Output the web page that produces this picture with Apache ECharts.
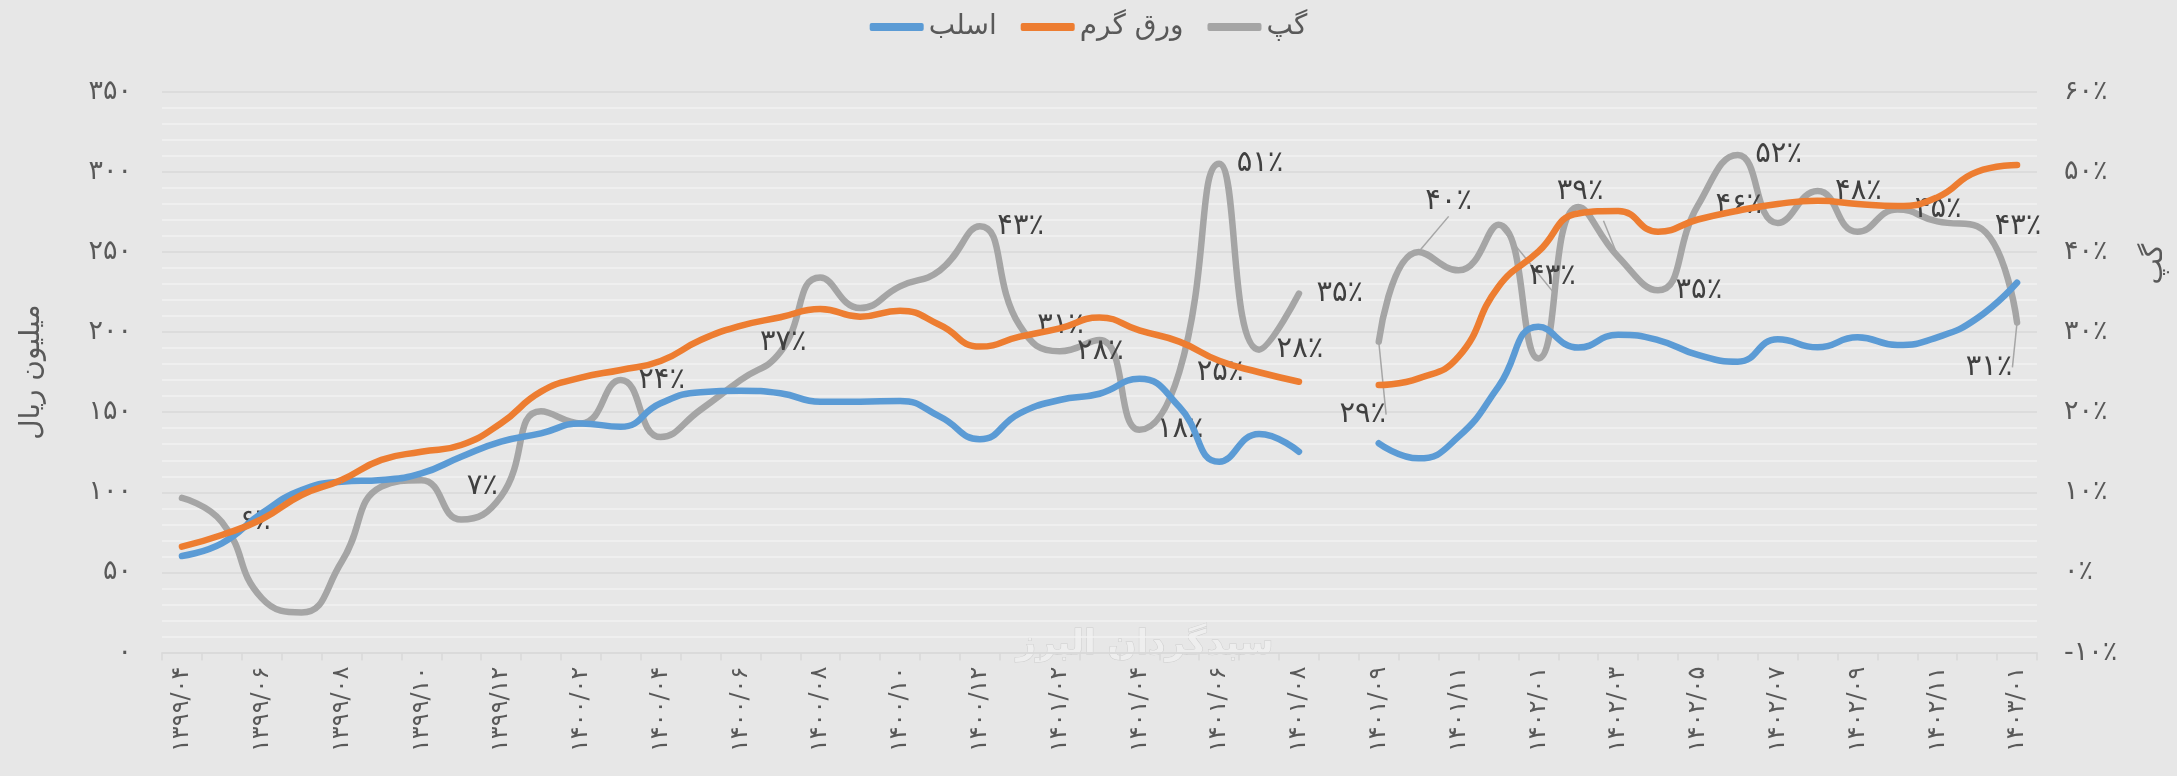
<!DOCTYPE html>
<html><head><meta charset="utf-8">
<script src="https://cdn.jsdelivr.net/npm/echarts@6/dist/echarts.min.js"></script>
<style>html,body{margin:0;padding:0;background:#e7e7e7}#c{width:2177px;height:776px}</style>
</head><body><div id="c"></div>
<script>
// ---- data ----
const categories = [
 '۱۳۹۹/۰۴','۱۳۹۹/۰۵','۱۳۹۹/۰۶','۱۳۹۹/۰۷','۱۳۹۹/۰۸','۱۳۹۹/۰۹','۱۳۹۹/۱۰','۱۳۹۹/۱۱','۱۳۹۹/۱۲',
 '۱۴۰۰/۰۱','۱۴۰۰/۰۲','۱۴۰۰/۰۳','۱۴۰۰/۰۴','۱۴۰۰/۰۵','۱۴۰۰/۰۶','۱۴۰۰/۰۷','۱۴۰۰/۰۸','۱۴۰۰/۰۹','۱۴۰۰/۱۰','۱۴۰۰/۱۱','۱۴۰۰/۱۲',
 '۱۴۰۱/۰۱','۱۴۰۱/۰۲','۱۴۰۱/۰۳','۱۴۰۱/۰۴','۱۴۰۱/۰۵','۱۴۰۱/۰۶','۱۴۰۱/۰۷','۱۴۰۱/۰۸','',
 '۱۴۰۱/۰۹','۱۴۰۱/۱۰','۱۴۰۱/۱۱','۱۴۰۱/۱۲',
 '۱۴۰۲/۰۱','۱۴۰۲/۰۲','۱۴۰۲/۰۳','۱۴۰۲/۰۴','۱۴۰۲/۰۵','۱۴۰۲/۰۶','۱۴۰۲/۰۷','۱۴۰۲/۰۸','۱۴۰۲/۰۹','۱۴۰۲/۱۰','۱۴۰۲/۱۱','۱۴۰۲/۱۲',
 '۱۴۰۳/۰۱'
];
const slab = [ // اسلب
 60.3,68.2,86.9,101.4,106.6,107.7,111.8,122.2,131.6,
 136.8,143,140.9,155.5,162.5,163.4,161.8,156.5,156.5,157.0,147.2,133.1,
 149.3,157.6,161.5,170.8,153.4,119.1,136.4,125.3,null,
 130.6,121.2,134.7,165.9,
 203.3,190.3,198.3,195,185.7,181.5,195.5,190.5,196.7,191.9,196.7,208.6,
 230.8
];
const hotSheet = [ // ورق گرم
 66.1,73.4,83.2,98.3,107.7,120.2,125.3,129.5,143.1,
 162.8,171.5,176.3,181.9,195.0,203.8,209.2,214.4,209.6,213.3,204.4,190.9,
 197.1,202.3,209.0,201.0,194.0,182.1,174.9,169.0,null,
 166.9,171.1,184.6,228.3,
 250.1,274,275.5,262.6,270.2,275.7,279.9,281.9,279.9,278.6,284.0,300.0,
 304.2
];
const gap = [ // گپ (%)
 9.3,6.3,-3.2,-5.0,1.3,10.7,11.5,6.6,9.5,
 20.1,18.6,24.0,16.9,20.3,24.0,27.5,36.8,33.0,35.7,37.7,43.2,
 30.8,27.6,29.0,17.8,25.0,51.0,27.8,34.8,null,
 28.8,40.0,37.7,43.4,
 26.7,45.6,39.4,35.2,45.8,52.1,43.6,47.6,42.5,45.3,43.8,43.2,
 31.2
];
const leftTicks = {min:0, max:350, step:50};
const rightTicks = {min:-10, max:60, step:10};
const seriesNames = ['اسلب','ورق گرم','گپ'];
const leftAxisName = 'میلیون ریال';
const rightAxisName = 'گپ';
const watermark = 'سبدگردان البرز';

// ---- label placement (style, not data) ----
const labelRightIdx = [1,11,20,21,22,24,25,26,27,28,37,38,39,41,43,45];
const labelMoved = {7:[21,-33], 16:[-37,65], 30:[-16,73], 31:[30,-50], 33:[54,52], 36:[-38,-65], 46:[-28,45]};
const leaderIdx = [30,31,33,36,46];

const FA = '۰۱۲۳۴۵۶۷۸۹';
function toFa(n){ return String(n).replace(/[0-9]/g, d => FA[+d]); }
function pct(v){ const r = Math.round(v); return (r<0?'-':'') + toFa(Math.abs(r)) + '٪'; }

const FONT = '"DejaVu Sans", "Noto Sans", sans-serif';
const C_BLUE='#5b9bd5', C_ORANGE='#ed7d31', C_GRAY='#a5a5a5';

const gapData = gap.map((v,i) => {
  if (v === null) return null;
  const item = {value: v};
  if (labelRightIdx.includes(i)) {
    item.label = {show:true, position:'right', distance:17};
  } else if (labelMoved[i]) {
    item.label = {show:true, position:'inside', offset: labelMoved[i]};
  }
  if (leaderIdx.includes(i)) item.labelLine = {show:true};
  return item;
});

function lineSeries(name, data, color, yAxisIndex){
  return {
    name, type:'line', data, yAxisIndex, smooth:0.5, connectNulls:false,
    showSymbol:true, showAllSymbol:true, symbol:'circle', symbolSize:1,
    itemStyle:{color}, lineStyle:{color, width:6.5, cap:'round', join:'round'},
    emphasis:{disabled:true}, animation:false
  };
}

const chart = echarts.init(document.getElementById('c'), null, {renderer:'canvas'});
const gapSeries = lineSeries(seriesNames[2], gapData, C_GRAY, 1);
gapSeries.label = {show:false, fontSize:29, color:'#404040', fontFamily:FONT, formatter: p => pct(p.value)};
gapSeries.labelLine = {show:false, lineStyle:{color:'#a6a6a6', width:1.5}};
gapSeries.z = 1;

chart.setOption({
  backgroundColor:'#e7e7e7',
  textStyle:{fontFamily:FONT},
  animation:false,
  legend:{
    data:seriesNames, top:8, left:'center',
    icon:'roundRect', itemWidth:54, itemHeight:8, itemGap:24,
    textStyle:{fontSize:28, color:'#595959', fontFamily:FONT}
  },
  grid:{left:162, right:139, top:91.6, bottom:123.4, containLabel:false},
  xAxis:{
    type:'category', data:categories, boundaryGap:true,
    axisLine:{show:true, lineStyle:{color:'#d9d9d9', width:1.5}},
    axisTick:{show:true, interval:0, length:8, lineStyle:{color:'#d9d9d9', width:1.5}},
    axisLabel:{interval:1, rotate:90, margin:14, fontSize:24, color:'#595959', fontFamily:FONT},
    splitLine:{show:false}
  },
  yAxis:[
    {
      type:'value', min:leftTicks.min, max:leftTicks.max, interval:leftTicks.step,
      name:leftAxisName, nameLocation:'middle', nameRotate:90, nameGap:116,
      nameTextStyle:{fontSize:28, color:'#595959', fontFamily:FONT},
      axisLine:{show:false}, axisTick:{show:false},
      axisLabel:{margin:30, fontSize:27, color:'#595959', fontFamily:FONT, formatter:v=>toFa(v)},
      splitLine:{show:true, lineStyle:{color:'#d9d9d9', width:1.5}},
      minorTick:{show:false, splitNumber:5},
      minorSplitLine:{show:true, lineStyle:{color:'#f2f2f2', width:1.5}}
    },
    {
      type:'value', min:rightTicks.min, max:rightTicks.max, interval:rightTicks.step,
      name:rightAxisName, nameLocation:'middle', nameRotate:90, nameGap:104,
      nameTextStyle:{fontSize:28, color:'#595959', fontFamily:FONT, padding:[0,0,0,216]},
      axisLine:{show:false}, axisTick:{show:false},
      axisLabel:{margin:27, fontSize:27, color:'#595959', fontFamily:FONT, formatter:v=>pct(v)},
      splitLine:{show:false}
    }
  ],
  graphic:[{
    type:'text', x:1145, y:645, z:0, silent:true,
    style:{text:watermark, font:'bold 34px "DejaVu Sans"', fill:'#eeeeee', stroke:'#cdcdcd', lineWidth:1,
      align:'center', verticalAlign:'middle', textAlign:'center', textVerticalAlign:'middle'}
  }],
  series:[
    lineSeries(seriesNames[0], slab, C_BLUE, 0),
    lineSeries(seriesNames[1], hotSheet, C_ORANGE, 0),
    gapSeries
  ]
});
</script></body></html>
